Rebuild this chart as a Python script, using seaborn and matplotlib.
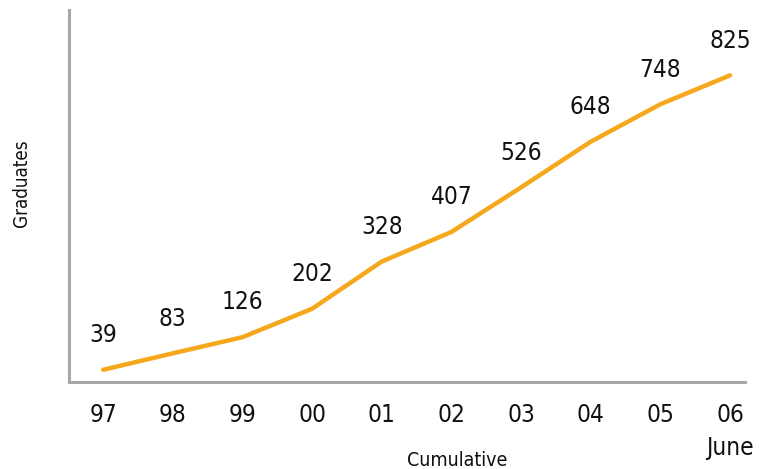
import matplotlib
matplotlib.use("Agg")
import matplotlib.pyplot as plt
import seaborn as sns
import pandas as pd

# Data
YEARS = ["97", "98", "99", "00", "01", "02", "03", "04", "05", "06"]
GRADUATES = [39, 83, 126, 202, 328, 407, 526, 648, 748, 825]
TICK_LABELS = ["97", "98", "99", "00", "01", "02", "03", "04", "05", "06\nJune"]

LINE_COLOR = "#F6A81C"
SPINE_COLOR = "#A6A6A6"

sns.set_theme(style="white")
plt.rcParams['font.family'] = ['DejaVu Sans']
plt.rcParams['font.stretch'] = 'condensed'

df = pd.DataFrame({"idx": range(len(YEARS)), "Graduates": GRADUATES})

fig, ax = plt.subplots(figsize=(7.59, 4.69), dpi=100)
fig.subplots_adjust(left=0.091, right=0.982, top=0.979, bottom=0.186)

sns.lineplot(data=df, x="idx", y="Graduates", ax=ax, color=LINE_COLOR, linewidth=3.2)

for i, v in zip(df["idx"], df["Graduates"]):
    ax.annotate(str(v), (i, v), xytext=(0, 25), textcoords="offset points",
                ha="center", va="center", fontsize=17.5, color="#111111")

ax.set_xlim(-0.49, len(YEARS) - 1 + 0.22)
ax.set_ylim(7, 1000)
ax.set_yticks([])
ax.set_xticks(list(df["idx"]))
ax.set_xticklabels(TICK_LABELS, fontsize=17.5, color="#111111")
for lbl in ax.get_xticklabels():
    lbl.set_linespacing(1.5)
ax.tick_params(axis="x", length=0, pad=15)

ax.set_xlabel("Cumulative", fontsize=14, color="#111111")
ax.xaxis.set_label_coords(0.574, -0.185)
ax.set_ylabel("Graduates", fontsize=13.5, color="#111111")
ax.yaxis.set_label_coords(-0.056, 0.535)

for side in ["top", "right"]:
    ax.spines[side].set_visible(False)
for side in ["left", "bottom"]:
    ax.spines[side].set_color(SPINE_COLOR)
    ax.spines[side].set_linewidth(2.2)

fig.savefig("out.png", dpi=100)
